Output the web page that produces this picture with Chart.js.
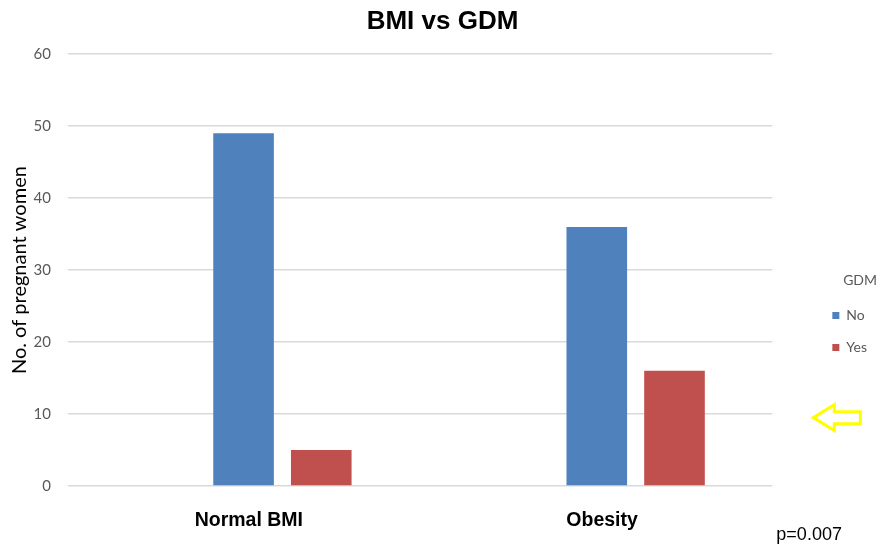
<!DOCTYPE html>
<html>
<head>
<meta charset="utf-8">
<script src="https://cdn.jsdelivr.net/npm/chart.js@4"></script>
<style>
  html, body { margin: 0; padding: 0; background: #fff; }
  #wrap { width: 885px; height: 546px; }
</style>
</head>
<body>
<div id="wrap"><canvas id="c" width="885" height="546"></canvas></div>
<script>
// BMI group counts split by gestational diabetes status
const categories = ['Normal BMI', 'Obesity'];
const gdmNo = [49, 36];
const gdmYes = [5, 16];
const yTicks = [0, 10, 20, 30, 40, 50, 60];
const pValueText = 'p=0.007';

// x positions of the two BMI groups on a linear axis
const groupPos = categories.map((_, i) => i);
const labelShift = -0.095;

const toPoints = arr => arr.map((v, i) => ({ x: groupPos[i], y: v }));

// hollow arrow and p-value note on the right side
const notesPlugin = {
  id: 'notes',
  afterDraw(chart) {
    const { ctx, chartArea, scales } = chart;
    const ay = scales.y.getPixelForValue(9.5);
    const tipX = chartArea.right + 41;
    ctx.save();
    ctx.strokeStyle = '#ffff00';
    ctx.lineWidth = 3;
    ctx.lineJoin = 'miter';
    ctx.beginPath();
    ctx.moveTo(tipX, ay);
    ctx.lineTo(tipX + 21, ay - 13);
    ctx.lineTo(tipX + 21, ay - 6);
    ctx.lineTo(tipX + 47, ay - 6);
    ctx.lineTo(tipX + 47, ay + 6);
    ctx.lineTo(tipX + 21, ay + 6);
    ctx.lineTo(tipX + 21, ay + 13);
    ctx.closePath();
    ctx.stroke();

    ctx.fillStyle = '#000';
    ctx.font = '18px "Liberation Sans", Arial, sans-serif';
    ctx.textAlign = 'left';
    ctx.textBaseline = 'middle';
    ctx.fillText(pValueText, chartArea.right + 4, 535);
    ctx.restore();
  }
};

new Chart(document.getElementById('c'), {
  type: 'bar',
  data: {
    datasets: [
      { label: 'No', data: toPoints(gdmNo), backgroundColor: '#4f81bd' },
      { label: 'Yes', data: toPoints(gdmYes), backgroundColor: '#c0504d' }
    ]
  },
  options: {
    responsive: false,
    animation: false,
    categoryPercentage: 0.44,
    barPercentage: 0.78,
    layout: { padding: { left: 8, right: 8, top: 0, bottom: 14 } },
    plugins: {
      title: {
        display: true,
        text: 'BMI vs GDM',
        color: '#000',
        font: { family: '"Liberation Sans", Arial, sans-serif', size: 26, weight: 'bold' },
        padding: { top: 6, bottom: 17 }
      },
      legend: {
        position: 'right',
        align: 'center',
        title: {
          display: true,
          text: 'GDM',
          position: 'end',
          color: '#595959',
          font: { family: 'Lato, sans-serif', size: 14 },
          padding: { top: 114, bottom: 0 }
        },
        labels: {
          boxWidth: 7,
          boxHeight: 7,
          color: '#595959',
          padding: 18,
          font: { family: 'Lato, sans-serif', size: 14 }
        }
      },
      tooltip: { enabled: false }
    },
    scales: {
      x: {
        type: 'linear',
        offset: false,
        min: -0.607,
        max: 1.387,
        grid: { display: false, drawTicks: false },
        border: { display: false },
        afterBuildTicks(scale) {
          scale.ticks = groupPos.map(p => ({ value: p + labelShift }));
        },
        afterFit(scale) {
          scale.height = 46;
        },
        ticks: {
          autoSkip: false,
          maxRotation: 0,
          padding: 23,
          color: '#000',
          font: { family: '"Liberation Sans", Arial, sans-serif', size: 19.5, weight: 'bold' },
          callback: (value, index) => categories[index]
        }
      },
      y: {
        min: 0,
        max: 60,
        afterBuildTicks(scale) {
          scale.ticks = yTicks.map(v => ({ value: v }));
        },
        afterFit(scale) {
          scale.width = 60;
        },
        grid: { color: '#d9d9d9', lineWidth: 1.5, drawTicks: false },
        border: { display: false },
        ticks: {
          color: '#595959',
          padding: 17,
          font: { family: 'Lato, sans-serif', size: 15 }
        },
        title: {
          display: true,
          text: 'No. of pregnant women',
          color: '#000',
          font: { family: 'Lato, sans-serif', size: 20 },
          padding: { top: 0, bottom: 4 }
        }
      },
      // empty spacer between the plot and the legend
      gap: {
        type: 'linear',
        position: 'right',
        display: true,
        grid: { display: false, drawTicks: false },
        border: { display: false },
        ticks: { display: false },
        afterFit(scale) {
          scale.width = 42;
        }
      }
    }
  },
  plugins: [notesPlugin]
});
</script>
</body>
</html>
